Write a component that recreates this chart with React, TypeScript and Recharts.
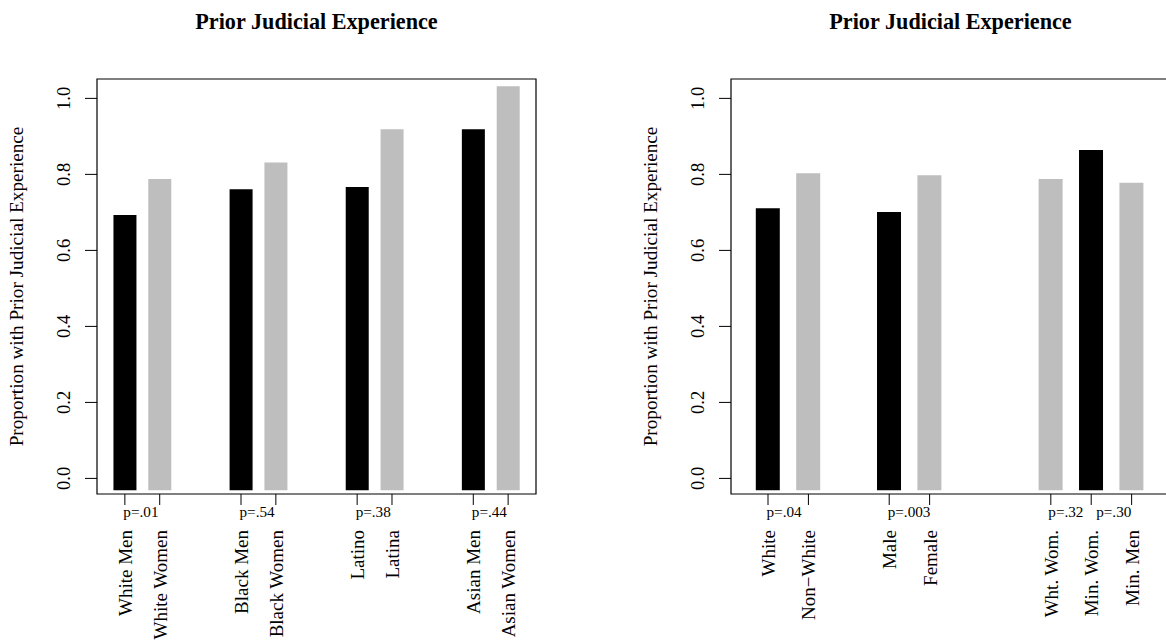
import { BarChart, Bar, XAxis, YAxis, Cell, ReferenceArea } from 'recharts'

// Left panel: race x gender
const leftCategories = ['White Men', 'White Women', 'Black Men', 'Black Women', 'Latino', 'Latina', 'Asian Men', 'Asian Women']
const leftValues = [0.693, 0.788, 0.761, 0.831, 0.767, 0.919, 0.919, 1.032]
const leftPLabels = ['p=.01', '', 'p=.54', '', 'p=.38', '', 'p=.44', '']

// Right panel: pooled comparisons
const rightCategories = ['White', 'Non\u2212White', 'Male', 'Female', 'Wht. Wom.', 'Min. Wom.', 'Min. Men']
const rightValues = [0.711, 0.803, 0.701, 0.798, 0.788, 0.864, 0.778]
const rightPLabels = ['p=.04', '', 'p=.003', '', 'p=.32', 'p=.30', '']

const yTicks = [0, 0.2, 0.4, 0.6, 0.8, 1.0]

// layout / style (not data)
const BLACK = '#000000'
const GREY = '#bebebe'
const BAR_FLOOR = -0.031
const Y_DOMAIN: [number, number] = [-0.041, 1.051]
const leftFills = leftCategories.map((_, i) => (i % 2 === 0 ? BLACK : GREY))
const rightFills = [BLACK, GREY, BLACK, GREY, GREY, BLACK, GREY]
const leftSlots = leftCategories.map((_, i) => 1 + 5 * Math.floor(i / 2) + 1.5 * (i % 2))
const rightSlots = [0, 1, 3, 4, 7, 8, 9]
const leftNudge = leftCategories.map(() => -1.5)
const rightNudge = [-1.5, 0, -1.5, 0, -2.5, 5, 0]

const FONT = '"Liberation Serif", "Times New Roman", serif'
const TITLE = 'Prior Judicial Experience'
const Y_LABEL = 'Proportion with Prior Judicial Experience'

const CHART_H = 644
const PLOT_TOP = 79
const PLOT_BOTTOM = 494

interface PanelProps {
  categories: string[]
  values: number[]
  pLabels: string[]
  slots: number[]
  fills: string[]
  nudge: number[]
  xDomain: [number, number]
  barSize: number
  width: number
  plotLeft: number
  plotRight: number
}

function Panel({ categories, values, pLabels, slots, fills, nudge, xDomain, barSize, width, plotLeft, plotRight }: PanelProps) {
  const data = categories.map((name, i) => ({ name, x: slots[i], v: values[i] }))
  const midX = (plotLeft + plotRight) / 2
  const midY = (PLOT_TOP + PLOT_BOTTOM) / 2

  const xTick = (props: any) => {
    const { x, y, payload } = props
    const i = slots.indexOf(payload.value)
    if (i < 0) return <g />
    return (
      <g>
        <text
          x={x + 7}
          y={y}
          transform={`rotate(-90, ${x + 7}, ${y})`}
          textAnchor="end"
          fontFamily={FONT}
          fontSize={19}
          fill="#000"
        >
          {categories[i]}
        </text>
        {pLabels[i] ? (
          <text x={x + nudge[i]} y={y - 13} textAnchor="start" fontFamily={FONT} fontSize={15.2} fill="#000">
            {pLabels[i]}
          </text>
        ) : null}
      </g>
    )
  }

  const yTick = (props: any) => {
    const { x, y, payload } = props
    return (
      <text
        x={x}
        y={y}
        transform={`rotate(-90, ${x}, ${y})`}
        textAnchor="middle"
        fontFamily={FONT}
        fontSize={18.6}
        fill="#000"
      >
        {Number(payload.value).toFixed(1)}
      </text>
    )
  }

  return (
    <BarChart
      width={width}
      height={CHART_H}
      data={data}
      margin={{ top: PLOT_TOP, right: width - plotRight, bottom: CHART_H - PLOT_BOTTOM - 30, left: plotLeft - 60 }}
    >
      <XAxis
        type="number"
        dataKey="x"
        domain={xDomain}
        allowDataOverflow
        ticks={slots}
        interval={0}
        height={30}
        axisLine={false}
        tickLine={{ stroke: '#000', strokeWidth: 1 }}
        tickSize={11}
        tickMargin={25}
        tick={xTick}
      />
      <YAxis
        type="number"
        domain={Y_DOMAIN}
        allowDataOverflow
        ticks={yTicks}
        width={60}
        axisLine={false}
        tickLine={{ stroke: '#000', strokeWidth: 1 }}
        tickSize={12}
        tickMargin={15.3}
        tick={yTick}
      />
      <Bar dataKey={(d: any) => [BAR_FLOOR, d.v]} barSize={barSize} isAnimationActive={false}>
        {data.map((_, i) => (
          <Cell key={`cell-${i}`} fill={fills[i]} />
        ))}
      </Bar>
      <ReferenceArea
        x1={xDomain[0]}
        x2={xDomain[1]}
        y1={Y_DOMAIN[0]}
        y2={Y_DOMAIN[1]}
        fill="none"
        stroke="#000"
        strokeWidth={1.2}
        ifOverflow="visible"
      />
      <text x={midX} y={29} textAnchor="middle" fontFamily={FONT} fontSize={22.2} fontWeight="bold" fill="#000">
        {TITLE}
      </text>
      <text
        x={plotLeft - 74}
        y={midY}
        transform={`rotate(-90, ${plotLeft - 74}, ${midY})`}
        textAnchor="middle"
        fontFamily={FONT}
        fontSize={19.2}
        fill="#000"
      >
        {Y_LABEL}
      </text>
    </BarChart>
  )
}

export default function App() {
  return (
    <div style={{ position: 'absolute', left: 0, top: 0, width: 1166, height: 644, background: '#fff', overflow: 'hidden' }}>
      <div style={{ position: 'absolute', left: 0, top: 0 }}>
        <Panel
          categories={leftCategories}
          values={leftValues}
          pLabels={leftPLabels}
          slots={leftSlots}
          fills={leftFills}
          nudge={leftNudge}
          xDomain={[-0.2, 18.7]}
          barSize={23}
          width={583}
          plotLeft={97}
          plotRight={536}
        />
      </div>
      <div style={{ position: 'absolute', left: 583, top: 0, width: 583, height: 644, overflow: 'hidden' }}>
        <Panel
          categories={rightCategories}
          values={rightValues}
          pLabels={rightPLabels}
          slots={rightSlots}
          fills={rightFills}
          nudge={rightNudge}
          xDomain={[-0.916, 9.95]}
          barSize={24}
          width={620}
          plotLeft={148}
          plotRight={587}
        />
      </div>
    </div>
  )
}
